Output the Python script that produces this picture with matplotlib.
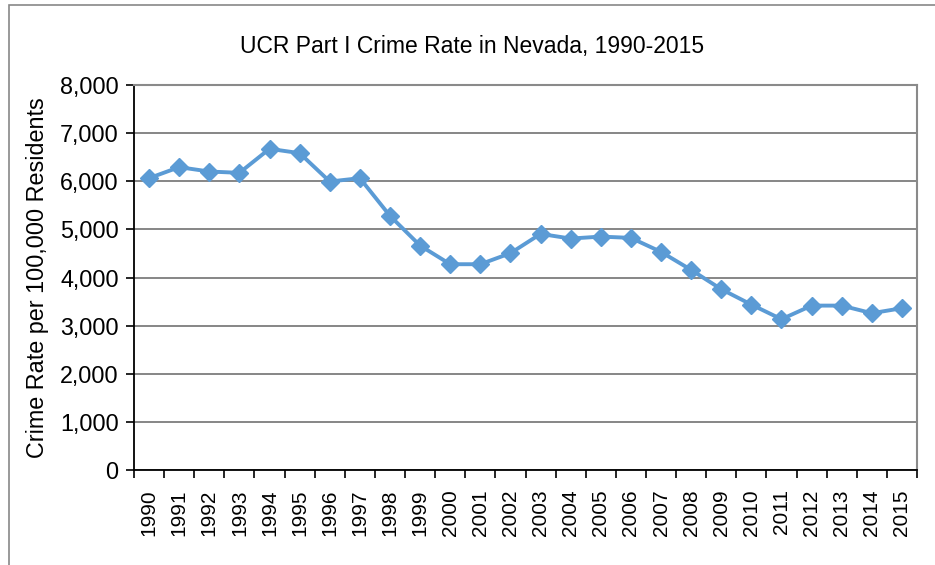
import numpy as np
import matplotlib
matplotlib.use('Agg')
import matplotlib.pyplot as plt
from matplotlib.patches import Rectangle

plt.rcParams['font.family'] = ['Liberation Sans', 'DejaVu Sans']

years = list(range(1990, 2016))
crime_rate = [6064, 6293, 6202, 6175, 6674, 6584, 5994, 6064, 5281, 4663,
              4276, 4276, 4505, 4906, 4809, 4850, 4823, 4532, 4158, 3757,
              3437, 3133, 3416, 3416, 3258, 3362]
y_ticks = [0, 1000, 2000, 3000, 4000, 5000, 6000, 7000, 8000]

fig = plt.figure(figsize=(9.35, 5.65), dpi=100)
ax = fig.add_axes([134/935, 1-470/565, (917-134)/935, (470-85)/565])

# outer chart frame (cut off at right and bottom)
fig.patches.append(Rectangle((9/935, -0.1), 1.2, 1.1 - 5/565, transform=fig.transFigure,
                             fill=False, edgecolor='#888888', linewidth=1.2))

x = np.arange(len(years))
ax.plot(x, crime_rate, color='#5B9BD5', linewidth=2.8, marker='D', markersize=9.5,
        markeredgecolor='#5B9BD5', zorder=3, clip_on=False)

ax.set_xlim(-0.5, len(years) - 0.5)
ax.set_ylim(0, 8000)
ax.set_yticks(y_ticks)
ax.set_yticklabels([f'{v:,}' for v in y_ticks], fontsize=16.8)
ax.yaxis.grid(True, color='#666666', linewidth=1.1)
ax.set_axisbelow(True)

# tick marks between categories, labels centered on categories
ax.set_xticks(np.arange(-0.5, len(years), 1.0))
ax.set_xticklabels([])
ax.set_xticks(x, minor=True)
ax.set_xticklabels([str(y) for y in years], minor=True, rotation=90, fontsize=15)
ax.tick_params(axis='x', which='minor', length=0, pad=14)
ax.tick_params(axis='x', which='major', length=6, width=1.2, color='black')
ax.tick_params(axis='y', length=6, width=1.2, color='black', pad=5)

ax.spines['left'].set_color('black')
ax.spines['left'].set_linewidth(1.3)
ax.spines['bottom'].set_color('black')
ax.spines['bottom'].set_linewidth(1.3)
ax.spines['top'].set_color('#8a8a8a')
ax.spines['top'].set_linewidth(1.5)
ax.spines['right'].set_color('#8a8a8a')
ax.spines['right'].set_linewidth(1.5)

ax.set_ylabel('Crime Rate per 100,000 Residents', fontsize=16.8, labelpad=8)
fig.text(472/935, 1-46/565, 'UCR Part I Crime Rate in Nevada, 1990-2015',
         ha='center', va='center', fontsize=16.5)

fig.savefig('out.png', dpi=100)
